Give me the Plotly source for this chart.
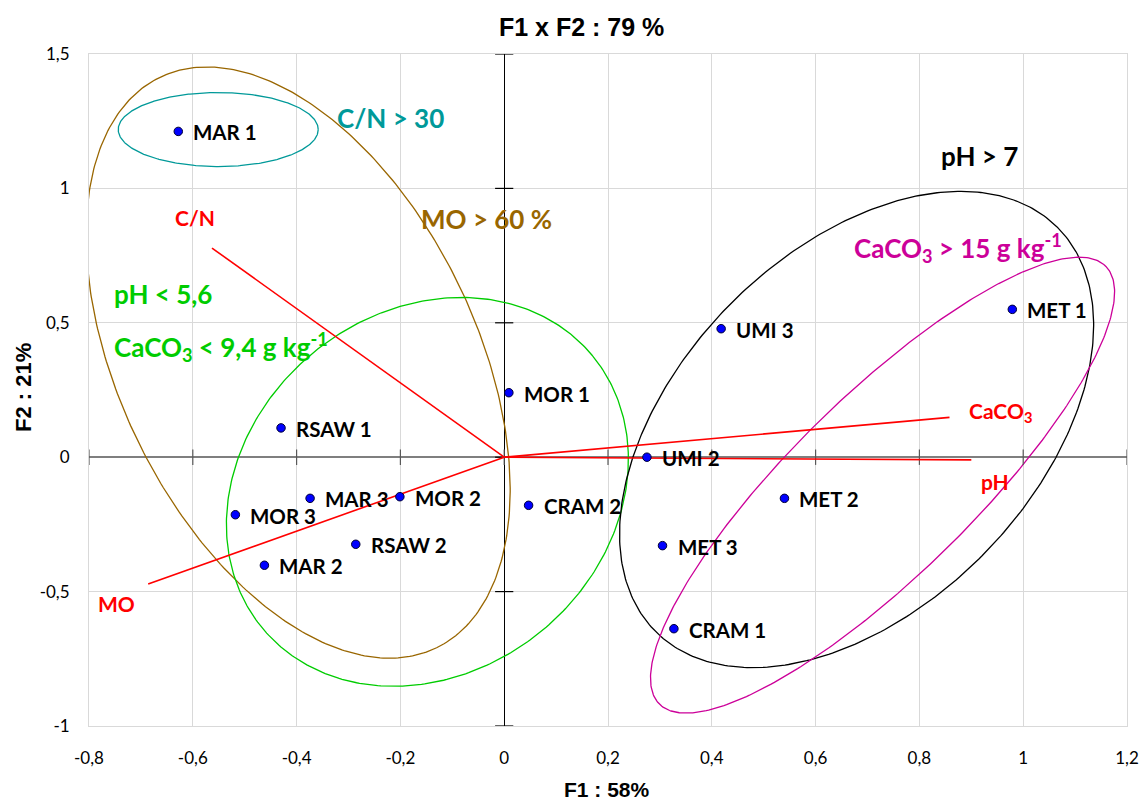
import numpy as np
import plotly.graph_objects as go

# ---------------- data ----------------
obs_names = ["MAR 1", "MOR 1", "RSAW 1", "UMI 3", "MET 1", "UMI 2", "MET 2", "MET 3",
             "CRAM 1", "CRAM 2", "MOR 2", "MAR 3", "MOR 3", "RSAW 2", "MAR 2"]
obs_f1 = [-0.628, 0.009, -0.430, 0.418, 0.979, 0.275, 0.540, 0.305,
          0.327, 0.047, -0.201, -0.374, -0.518, -0.286, -0.462]
obs_f2 = [1.212, 0.240, 0.109, 0.478, 0.550, 0.000, -0.153, -0.329,
          -0.638, -0.179, -0.147, -0.153, -0.214, -0.324, -0.402]

var_names = ["C/N", "MO", "CaCO<sub>3</sub>", "pH"]
var_f1 = [-0.563, -0.686, 0.858, 0.900]
var_f2 = [0.778, -0.472, 0.148, -0.010]

x_ticks = [-0.8, -0.6, -0.4, -0.2, 0, 0.2, 0.4, 0.6, 0.8, 1.0, 1.2]
x_tick_labels = ["-0,8", "-0,6", "-0,4", "-0,2", "0", "0,2", "0,4", "0,6", "0,8", "1", "1,2"]
y_ticks = [-1, -0.5, 0, 0.5, 1, 1.5]
y_tick_labels = ["-1", "-0,5", "0", "0,5", "1", "1,5"]

title_text = "F1 x F2 : 79 %"
x_title = "F1 : 58%"
y_title = "F2 : 21%"

# group annotations (text, colour)
group_texts = ["C/N &gt; 30", "MO &gt; 60 %", "pH &lt; 5,6", "CaCO<sub>3</sub> &lt; 9,4 g kg<sup>-1</sup>",
               "pH &gt; 7", "CaCO<sub>3</sub> &gt; 15 g kg<sup>-1</sup>"]

# ---------------- layout geometry ----------------
W, H = 1148, 803
ML, MR, MT, MB = 89, 21, 54, 77
XR = [-0.8, 1.2]
YR = [-1.0, 1.5]
PW, PH = W - ML - MR, H - MT - MB
KX = PW / (XR[1] - XR[0])   # px per unit
KY = PH / (YR[1] - YR[0])

# ellipse specs: centre (data), semi axes (px), angle (deg, screen), colour
ellipses = [
    dict(c=(-0.551, 1.219), a=100, b=37, ang=0, color="#009999"),
    dict(c=(-0.397, 0.352), a=317, b=178.5, ang=64.1, color="#996600"),
    dict(c=(-0.148, -0.129), a=214, b=180, ang=-39.4, color="#00CC00"),
    dict(c=(0.679, 0.103), a=285, b=178, ang=-45.3, color="#000000"),
    dict(c=(0.729, -0.104), a=312.6, b=90, ang=-44.4, color="#CC0099"),
]

group_pos = [(-0.326, 1.262), (-0.165, 0.885), (-0.755, 0.606), (-0.755, 0.41),
             (0.838, 1.122), (0.671, 0.778)]
group_colors = ["#009999", "#996600", "#00CC00", "#00CC00", "#000000", "#CC0099"]

var_label_pos = [(-0.595, 0.890, "center"), (-0.747, -0.544, "center"),
                 (0.891, 0.170, "left"), (0.9146, -0.092, "left")]

FONT = "Lato"
FONT_B = "Lato"

fig = go.Figure()

# ellipses
t = np.linspace(0, 2 * np.pi, 400)
for e in ellipses:
    th = np.radians(e["ang"])
    dx = e["a"] * np.cos(t) * np.cos(th) - e["b"] * np.sin(t) * np.sin(th)
    dy = e["a"] * np.cos(t) * np.sin(th) + e["b"] * np.sin(t) * np.cos(th)
    fig.add_trace(go.Scatter(x=e["c"][0] + dx / KX, y=e["c"][1] - dy / KY, mode="lines",
                             line=dict(color=e["color"], width=1.3), hoverinfo="skip",
                             showlegend=False))

# axis cross ticks on zero lines
fig.add_trace(go.Scatter(x=x_ticks, y=[0] * len(x_ticks), mode="markers",
                         marker=dict(symbol="line-ns", size=11,
                                     line=dict(color="#595959", width=1.2)),
                         hoverinfo="skip", showlegend=False))
fig.add_trace(go.Scatter(x=[0] * len(y_ticks), y=y_ticks, mode="markers",
                         marker=dict(symbol="line-ew", size=13,
                                     line=dict(color="#000000", width=1.2)),
                         hoverinfo="skip", showlegend=False))

# variable vectors
for vx, vy in zip(var_f1, var_f2):
    fig.add_trace(go.Scatter(x=[0, vx], y=[0, vy], mode="lines",
                             line=dict(color="#FF0000", width=1.6),
                             hoverinfo="skip", showlegend=False))

# observations
fig.add_trace(go.Scatter(x=obs_f1, y=obs_f2, mode="markers",
                         marker=dict(color="#0000FF", size=8.5,
                                     line=dict(color="#000033", width=1)),
                         hoverinfo="skip", showlegend=False))

annotations = []
for name, x, y in zip(obs_names, obs_f1, obs_f2):
    annotations.append(dict(x=x, y=y, xref="x", yref="y", text=name, showarrow=False,
                            xanchor="left", yanchor="middle", xshift=13, yshift=-1,
                            font=dict(family=FONT_B, size=20.5, color="#000000", weight="bold")))

for (px, py, anc), name in zip(var_label_pos, var_names):
    annotations.append(dict(x=px, y=py, xref="x", yref="y", text=name, showarrow=False,
                            xanchor=anc, yanchor="middle",
                            font=dict(family=FONT_B, size=21, color="#FF0000", weight="bold")))

for (gx, gy), txt, col in zip(group_pos, group_texts, group_colors):
    annotations.append(dict(x=gx, y=gy, xref="x", yref="y", text=txt, showarrow=False,
                            xanchor="left", yanchor="middle",
                            font=dict(family=FONT_B, size=26, color=col, weight="bold")))

def px_to_paper(xp, yp):
    return (xp - ML) / PW, (H - MB - yp) / PH

tx, ty = px_to_paper(581, 27)
annotations.append(dict(x=tx, y=ty, xref="paper", yref="paper", text=title_text,
                        showarrow=False, xanchor="center", yanchor="middle",
                        font=dict(family="Liberation Sans", size=25, color="#000000", weight="bold")))
ax_x, ax_y = px_to_paper(607, 789)
annotations.append(dict(x=ax_x, y=ax_y, xref="paper", yref="paper", text=x_title,
                        showarrow=False, xanchor="center", yanchor="middle",
                        font=dict(family="Liberation Sans", size=21, color="#000000", weight="bold")))
ay_x, ay_y = px_to_paper(23, 388)
annotations.append(dict(x=ay_x, y=ay_y, xref="paper", yref="paper", text=y_title,
                        showarrow=False, xanchor="center", yanchor="middle", textangle=-90,
                        font=dict(family="Liberation Sans", size=22, color="#000000", weight="bold")))

fig.update_layout(
    width=W, height=H,
    margin=dict(l=ML, r=MR, t=MT, b=MB, autoexpand=False),
    paper_bgcolor="white", plot_bgcolor="white",
    hovermode=False, showlegend=False,
    annotations=annotations,
    xaxis=dict(range=XR, tickmode="array", tickvals=x_ticks, ticktext=x_tick_labels,
               showgrid=True, gridcolor="#D9D9D9", gridwidth=1,
               zeroline=True, zerolinecolor="#000000", zerolinewidth=1.2,
               showline=True, mirror=True, linecolor="#D9D9D9", linewidth=1,
               ticks="", ticklabelstandoff=17,
               tickfont=dict(family=FONT, size=17, color="#000000"), fixedrange=True),
    yaxis=dict(range=YR, tickmode="array", tickvals=y_ticks, ticktext=y_tick_labels,
               showgrid=True, gridcolor="#D9D9D9", gridwidth=1,
               zeroline=True, zerolinecolor="#7F7F7F", zerolinewidth=1.6,
               showline=True, mirror=True, linecolor="#D9D9D9", linewidth=1,
               ticks="", ticklabelstandoff=15,
               tickfont=dict(family=FONT, size=17, color="#000000"), fixedrange=True),
)

fig.write_html("out.html")
